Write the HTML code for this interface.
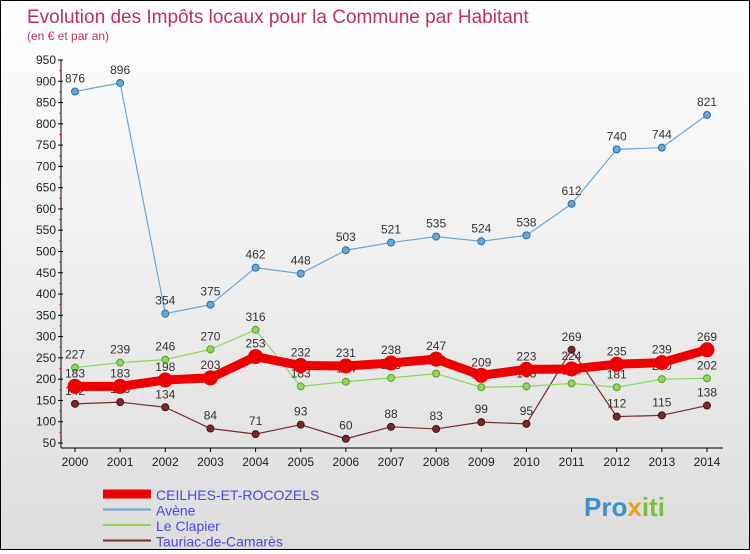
<!DOCTYPE html>
<html><head><meta charset="utf-8"><style>
body{margin:0;width:750px;height:550px;overflow:hidden;font-family:"Liberation Sans",sans-serif}
#wrap{position:relative;width:748px;height:548px;border:1px solid #000;background:linear-gradient(#fff,#ddd)}
</style></head><body>
<div id="wrap">
<svg id="c" width="748" height="548"></svg>
</div>
<script>
const years=[2000,2001,2002,2003,2004,2005,2006,2007,2008,2009,2010,2011,2012,2013,2014];
const ticks=[50,100,150,200,250,300,350,400,450,500,550,600,650,700,750,800,850,900,950];
const seriesNames=["CEILHES-ET-ROCOZELS","Avène","Le Clapier","Tauriac-de-Camarès"];
const ceilhes=[183,183,198,203,253,232,231,238,247,209,223,224,235,239,269];
const avene=[876,896,354,375,462,448,503,521,535,524,538,612,740,744,821];
const clapier=[227,239,246,270,316,183,194,203,213,181,183,190,181,200,202];
const tauriac=[142,146,134,84,71,93,60,88,83,99,95,269,112,115,138];
const NS="http://www.w3.org/2000/svg",svg=document.getElementById('c');
function el(t,a,txt){const e=document.createElementNS(NS,t);for(const k in a)e.setAttribute(k,a[k]);if(txt!==undefined)e.textContent=txt;svg.appendChild(e);return e;}
const x=i=>74+i*(632/14), y=v=>442-(v-50)*(383/900);
let t=el('text',{x:26,y:22,fill:'#c0305a','font-size':19},'Evolution des Impôts locaux pour la Commune par Habitant');

t=el('text',{x:26,y:39,fill:'#c0305a','font-size':12},'(en € et par an)');

let ax=el('line',{x1:60,y1:59,x2:60,y2:447,stroke:'#000'});

ax=el('line',{x1:60,y1:447,x2:722,y2:447,stroke:'#000'});

ticks.forEach(v=>{el('line',{x1:57,y1:y(v),x2:62,y2:y(v),stroke:'#000'});
 if(v<950)el('line',{x1:58,y1:y(v+25),x2:61,y2:y(v+25),stroke:'#e33'});
 const l=el('text',{x:55,y:y(v)+4,'text-anchor':'end','font-size':12,fill:'#222'},v);
 });
years.forEach((yr,i)=>{el('line',{x1:x(i),y1:447,x2:x(i),y2:451,stroke:'#000'});
 const l=el('text',{x:x(i),y:465,'text-anchor':'middle','font-size':12,fill:'#222'},yr);
 });
function series(d,col,w,r,name,dark){
 const p=el('polyline',{points:d.map((v,i)=>x(i)+','+y(v)).join(' '),fill:'none',stroke:col,'stroke-width':w,'stroke-linejoin':'round'});
 
 d.forEach((v,i)=>{const c=el('circle',{cx:x(i),cy:y(v),r:r,fill:col,stroke:dark,'stroke-width':1});
  
  const l=el('text',{x:x(i),y:y(v)-9,'text-anchor':'middle','font-size':12,fill:'#333'},v);
  });
}
series(avene,'#6aa6d6',1.2,3.5,'avene','#2c6ea8');
series(tauriac,'#7a2a2a',1.2,3.5,'tauriac','#4a1010');
series(clapier,'#8fd65a',1.2,3.5,'clapier','#5aa030');
series(ceilhes,'#ee0000',9,7,'ceilhes','#ee0000');
const lg=[['#ee0000',9],['#6aa6d6',2],['#8fd65a',2],['#7a2a2a',2]];
seriesNames.forEach((n,i)=>{const yy=493+i*15.5;
 const l=el('line',{x1:102,y1:yy,x2:150,y2:yy,stroke:lg[i][0],'stroke-width':lg[i][1]});
 
 const tx=el('text',{x:155,y:yy+6,'font-size':14,fill:'#4a4ae0'},n);
 });
const logo=el('text',{x:583,y:515,'font-size':26,'font-weight':'bold',fill:'#3a8fd0'},'');

[['Pro','#3a8fd0'],['x','#f0a020'],['iti','#7ac040']].forEach(s=>{const ts=document.createElementNS(NS,'tspan');ts.setAttribute('fill',s[1]);ts.textContent=s[0];logo.appendChild(ts);});
</script>
</body></html>
